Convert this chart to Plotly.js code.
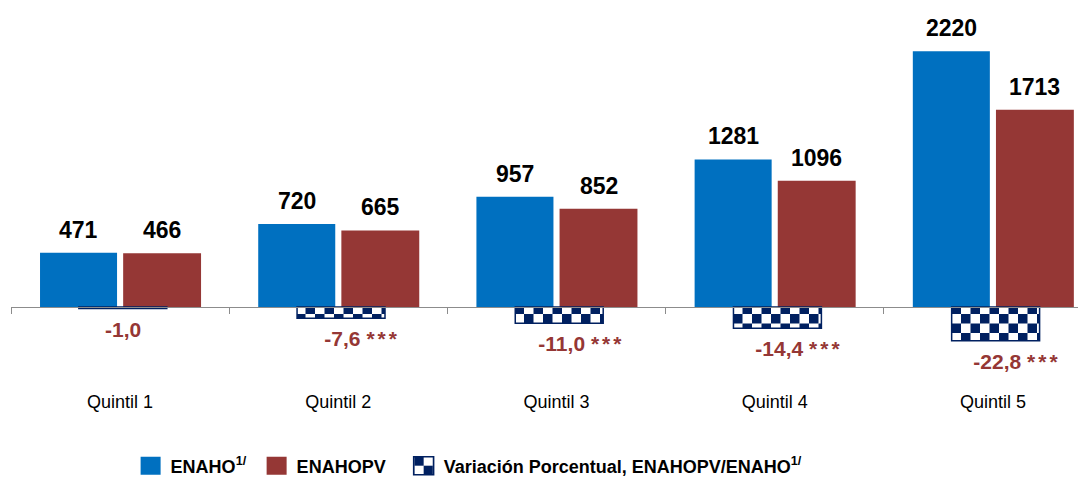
<!DOCTYPE html>
<html><head><meta charset="utf-8">
<script src="https://cdn.plot.ly/plotly-3.0.1.min.js"></script>
<style>html,body{margin:0;padding:0;background:#fff}#chart{width:1090px;height:477px}</style>
</head><body><div id="chart"></div>
<script>
// ---- data ----
const categories = ["Quintil 1", "Quintil 2", "Quintil 3", "Quintil 4", "Quintil 5"];
const enaho = [471, 720, 957, 1281, 2220];
const enahopv = [466, 665, 852, 1096, 1713];
const variacion = [-1.0, -7.6, -11.0, -14.4, -22.8];
const significancia = ["", "***", "***", "***", "***"];
const seriesNames = ["ENAHO<sup>1/</sup>", "ENAHOPV", "Variación Porcentual, ENAHOPV/ENAHO<sup>1/</sup>"];

// ---- style ----
const BLUE = "#0070C0", RED = "#953735", NAVY = "#002060";
const NARROW = "Liberation Sans Narrow, Arial Narrow, Liberation Sans, Arial, sans-serif";
const REG = "Liberation Sans, Arial, sans-serif";
const W_BLUE = 0.353, OFF_BLUE = -0.367;
const W_RED = 0.357, OFF_RED = 0.014;
const W_VAR = 0.403, OFF_VAR = -0.189;

const fmt = v => v.toFixed(1).replace(".", ",");

const data = [
  {type: "bar", name: seriesNames[0], x: categories, y: enaho, width: W_BLUE, offset: OFF_BLUE,
   marker: {color: BLUE}, hoverinfo: "skip", legend: "legend"},
  {type: "bar", name: seriesNames[1], x: categories, y: enahopv, width: W_RED, offset: OFF_RED,
   marker: {color: RED}, hoverinfo: "skip", legend: "legend2"},
  {type: "bar", name: seriesNames[2], x: categories, y: variacion, yaxis: "y2", width: W_VAR, offset: OFF_VAR,
   marker: {color: "#ffffff", line: {color: NAVY, width: 1.5},
            pattern: {shape: "+", fgcolor: NAVY, bgcolor: "#ffffff", size: 18, solidity: 0.5, fillmode: "replace"}},
   hoverinfo: "skip", legend: "legend3"}
];

const annotations = [];
enaho.forEach((v, i) => annotations.push({
  x: i + OFF_BLUE + W_BLUE / 2, y: v, xref: "x", yref: "y", text: String(v), showarrow: false,
  yanchor: "bottom", yshift: 8, font: {family: NARROW, size: 23, color: "#000", weight: "bold"}
}));
enahopv.forEach((v, i) => annotations.push({
  x: i + OFF_RED + W_RED / 2, y: v, xref: "x", yref: "y", text: String(v), showarrow: false,
  yanchor: "bottom", yshift: 8, font: {family: NARROW, size: 23, color: "#000", weight: "bold"}
}));
variacion.forEach((v, i) => {
  const s = significancia[i];
  const txt = s
    ? `<span style="color:rgba(0,0,0,0);letter-spacing:3px">${s} </span>${fmt(v)} <span style="letter-spacing:3px">${s}</span>`
    : fmt(v);
  annotations.push({
    x: i, y: v, xref: "x", yref: "y2", text: txt, showarrow: false, xshift: 3,
    yanchor: "top", yshift: -7, font: {family: NARROW, size: 21, color: RED, weight: "bold"}
  });
});

const legendBase = {orientation: "h", xanchor: "left", y: -0.25, yanchor: "top",
  font: {family: NARROW, size: 18, color: "#000", weight: "bold"},
  bgcolor: "rgba(0,0,0,0)", itemwidth: 30};

const plotH = 350, zeroBelow = 53;
const layout = {
  width: 1090, height: 477,
  margin: {l: 11, r: 12, t: 10, b: 117, autoexpand: false},
  paper_bgcolor: "#fff", plot_bgcolor: "#fff",
  barmode: "overlay",
  showlegend: true,
  xaxis: {type: "category", range: [-0.5, 4.39], anchor: "free", position: zeroBelow / plotH,
          showline: true, linecolor: "#8c8c8c", linewidth: 1, ticks: "outside", ticklen: 6,
          tickcolor: "#8c8c8c", tickson: "boundaries", ticklabelstandoff: 78, automargin: false,
          tickfont: {family: REG, size: 18, color: "#000"}, showgrid: false, zeroline: false},
  yaxis: {range: [-460, 2578], visible: false, showgrid: false, zeroline: false},
  yaxis2: {range: [-35.8, 200.7], overlaying: "y", visible: false, showgrid: false, zeroline: false},
  legend: Object.assign({}, legendBase, {x: 0.1121}),
  legend2: Object.assign({}, legendBase, {x: 0.2302}),
  legend3: Object.assign({}, legendBase, {x: 0.3680}),
  annotations: annotations
};

const gd = document.getElementById("chart");
Plotly.newPlot(gd, data, layout, {staticPlot: true, displayModeBar: false}).then(() => {
  const NS = "http://www.w3.org/2000/svg";
  gd.querySelectorAll("pattern").forEach(p => {
    const s = 19;
    p.setAttribute("width", s); p.setAttribute("height", s);
    p.removeAttribute("patternTransform");
    while (p.firstChild) p.removeChild(p.firstChild);
    const add = (x, y, w, h, c) => {
      const r = document.createElementNS(NS, "rect");
      r.setAttribute("x", x); r.setAttribute("y", y);
      r.setAttribute("width", w); r.setAttribute("height", h);
      r.setAttribute("fill", c); p.appendChild(r);
    };
    add(0, 0, s, s, "#ffffff");
    add(0, 0, s / 2, s / 2, NAVY);
    add(s / 2, s / 2, s / 2, s / 2, NAVY);
  });
  gd.querySelectorAll(".legendpoints path").forEach(pa => pa.setAttribute("d", "M10,9H-10V-9H10Z"));
});
</script>
</body></html>
